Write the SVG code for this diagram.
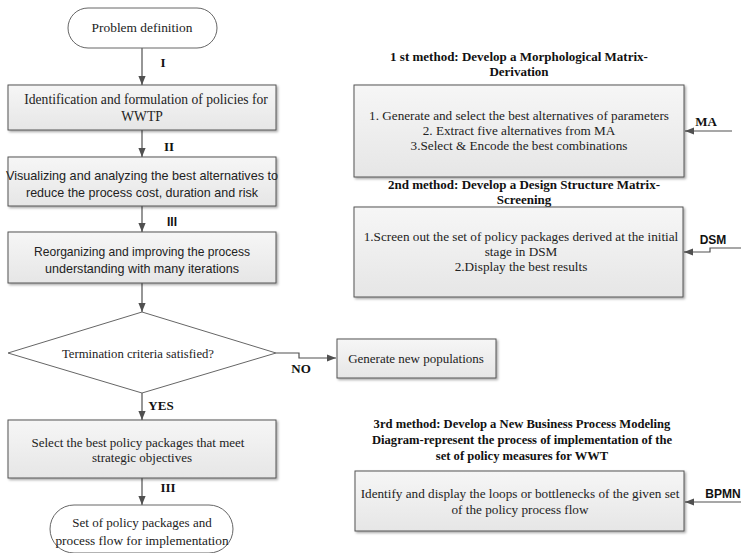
<svg xmlns="http://www.w3.org/2000/svg" width="741" height="553" viewBox="0 0 741 553">
  <defs>
    <linearGradient id="boxFill" x1="0" y1="0" x2="0" y2="1">
      <stop offset="0" stop-color="#f6f6f6"/>
      <stop offset="1" stop-color="#e6e6e6"/>
    </linearGradient>
    <filter id="shadow" x="-5%" y="-5%" width="112%" height="125%">
      <feDropShadow dx="1.5" dy="1.5" stdDeviation="0.8" flood-color="#000" flood-opacity="0.35"/>
    </filter>
    <marker id="arrow" viewBox="0 0 10 10" refX="10" refY="5" markerWidth="9" markerHeight="9" markerUnits="userSpaceOnUse" orient="auto">
      <path d="M0,1 L10,5 L0,9 Z" fill="#505050"/>
    </marker>
  </defs>
  <style>
    .box { fill: url(#boxFill); stroke: #555; stroke-width: 1; filter: url(#shadow); }
    .term { fill: #fff; stroke: #666; stroke-width: 1; }
    .serif { font-family: "Liberation Serif", "Times New Roman", serif; font-size: 13px; fill: #222; text-anchor: middle; }
    .serif-s { font-family: "Liberation Serif", "Times New Roman", serif; font-size: 13.2px; fill: #222; text-anchor: middle; }
    .sans { font-family: "Liberation Sans", Arial, sans-serif; font-size: 13px; fill: #222; text-anchor: middle; }
    .lbl { font-family: "Liberation Serif", "Times New Roman", serif; font-size: 13px; font-weight: bold; fill: #111; text-anchor: middle; }
    .lbl-sans { font-family: "Liberation Sans", Arial, sans-serif; font-size: 12px; font-weight: bold; fill: #111; text-anchor: middle; }
    .title { font-family: "Liberation Serif", "Times New Roman", serif; font-size: 13px; font-weight: bold; fill: #111; text-anchor: middle; }
    .conn { fill: none; stroke: #505050; stroke-width: 1.2; marker-end: url(#arrow); }
  </style>

  <!-- connectors -->
  <g id="connectors">
    <line class="conn" x1="142" y1="48" x2="142" y2="85"/>
    <line class="conn" x1="142" y1="130" x2="142" y2="157"/>
    <line class="conn" x1="142" y1="206" x2="142" y2="232"/>
    <line class="conn" x1="142" y1="283" x2="142" y2="312"/>
    <line class="conn" x1="142" y1="393" x2="142" y2="420"/>
    <line class="conn" x1="142" y1="478" x2="142" y2="505"/>
    <polyline class="conn" points="276,353 299,353 299,358 336,358"/>
    <line class="conn" x1="732" y1="131" x2="685" y2="131"/>
    <polyline class="conn" points="741,248 710,248 710,252 684,252"/>
    <line class="conn" x1="741" y1="502" x2="685" y2="502"/>
    <text class="lbl" x="163" y="67">I</text>
    <text class="lbl" x="169" y="151">II</text>
    <text class="lbl-sans" x="172" y="226">III</text>
    <text class="lbl" x="301" y="373">NO</text>
    <text class="lbl" x="161" y="410">YES</text>
    <text class="lbl" x="168" y="492">III</text>
    <text class="lbl" x="706" y="126">MA</text>
    <text class="lbl-sans" x="713" y="244">DSM</text>
    <text class="lbl-sans" x="723" y="498">BPMN</text>
  </g>

  <!-- main flow -->
  <g id="start">
    <rect class="term" x="68" y="8" width="149" height="40" rx="20" ry="20"/>
    <text class="serif" x="142" y="32" style="font-size:13.4px">Problem definition</text>
  </g>

  <g id="identify">
    <rect class="box" x="8" y="85" width="268" height="45"/>
    <text class="serif" x="146" y="104" style="font-size:13.6px">Identification and formulation of policies for</text>
    <text class="serif" x="142" y="121" style="font-size:13.6px">WWTP</text>
  </g>

  <g id="visualize">
    <rect class="box" x="8" y="157" width="268" height="49"/>
    <text class="sans" x="142" y="180" textLength="272" lengthAdjust="spacingAndGlyphs">Visualizing and analyzing the best alternatives to</text>
    <text class="sans" x="142" y="197" textLength="232" lengthAdjust="spacingAndGlyphs">reduce the process cost, duration and risk</text>
  </g>

  <g id="reorganize">
    <rect class="box" x="8" y="232" width="268" height="51"/>
    <text class="sans" x="142" y="256" textLength="216" lengthAdjust="spacingAndGlyphs">Reorganizing and improving the process</text>
    <text class="sans" x="142" y="273" textLength="194" lengthAdjust="spacingAndGlyphs">understanding with many iterations</text>
  </g>

  <g id="decision">
    <polygon class="term" points="142,312 276,353 142,393 8,353"/>
    <text class="serif" x="138" y="358" style="font-size:12.7px">Termination criteria satisfied?</text>
  </g>

  <g id="generate">
    <rect class="box" x="337" y="339" width="159" height="39"/>
    <text class="serif" x="416" y="363">Generate new populations</text>
  </g>

  <g id="select">
    <rect class="box" x="8" y="420" width="268" height="58"/>
    <text class="serif" x="138" y="447">Select the best policy packages that meet</text>
    <text class="serif" x="142" y="462">strategic objectives</text>
  </g>

  <g id="end">
    <rect class="term" x="50" y="505" width="183" height="48" rx="24" ry="24"/>
    <text class="serif" x="142" y="527">Set of policy packages and</text>
    <text class="serif" x="142" y="545" style="font-size:13.3px">process flow for implementation</text>
  </g>

  <!-- methods -->
  <g id="method-ma">
    <text class="title" x="519" y="61">1 st method: Develop a Morphological Matrix-</text>
    <text class="title" x="519" y="76">Derivation</text>
    <rect class="box" x="354" y="85" width="330" height="92"/>
    <text class="serif-s" x="519" y="120">1. Generate and select the best alternatives of parameters</text>
    <text class="serif-s" x="519" y="135">2. Extract five alternatives from MA</text>
    <text class="serif-s" x="519" y="150">3.Select &amp; Encode the best combinations</text>
  </g>

  <g id="method-dsm">
    <text class="title" x="524" y="189">2nd method: Develop a Design Structure Matrix-</text>
    <text class="title" x="524" y="204">Screening</text>
    <rect class="box" x="354" y="207" width="329" height="90"/>
    <text class="serif-s" x="521" y="241">1.Screen out the set of policy packages derived at the initial</text>
    <text class="serif-s" x="521" y="256">stage in DSM</text>
    <text class="serif-s" x="521" y="271">2.Display the best results</text>
  </g>

  <g id="method-bpmn">
    <text class="title" x="522" y="428" style="font-size:12.6px">3rd method: Develop a New Business Process Modeling</text>
    <text class="title" x="522" y="444" style="font-size:12.6px">Diagram-represent the process of implementation of the</text>
    <text class="title" x="522" y="460" style="font-size:12.6px">set of policy measures for WWT</text>
    <rect class="box" x="355" y="471" width="329" height="60"/>
    <text class="serif-s" x="520" y="498">Identify and display the loops or bottlenecks of the given set</text>
    <text class="serif-s" x="520" y="514">of the policy process flow</text>
  </g>
</svg>
